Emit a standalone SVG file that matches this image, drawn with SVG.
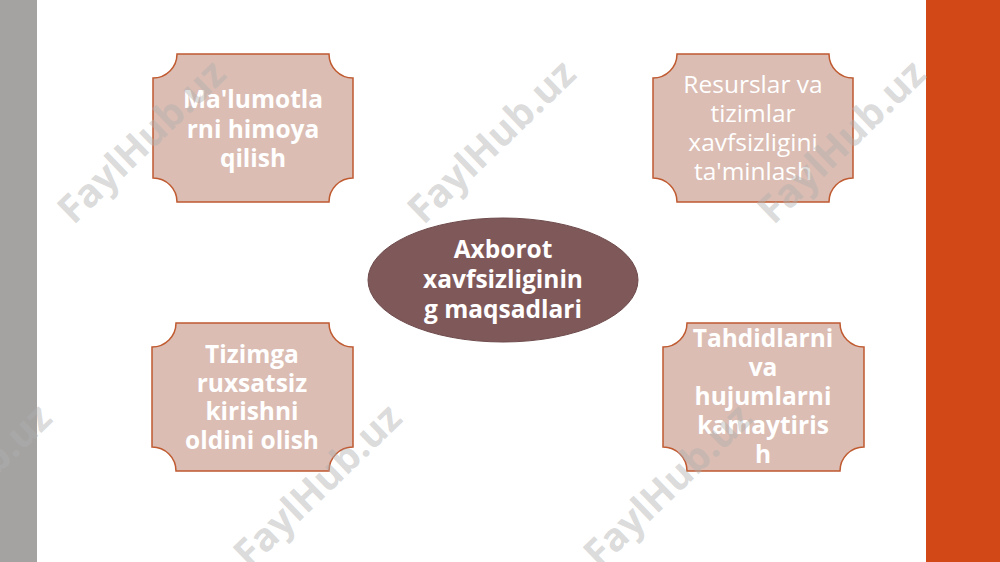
<svg xmlns="http://www.w3.org/2000/svg" width="1000" height="562" viewBox="0 0 1000 562">
<style>
.plaque{fill:#dbbdb3;stroke:#c05a30;stroke-width:1.5}
.t{font-family:"Open Sans","Noto Sans","Liberation Sans",sans-serif;font-size:24.5px;fill:#ffffff;text-anchor:middle}
.b{font-weight:bold}
.wm{font-family:"Open Sans","Noto Sans","Liberation Sans",sans-serif;font-size:39px;font-weight:bold;fill:#b0b0b0;fill-opacity:0.45;text-anchor:middle;dominant-baseline:central}
</style>
<rect x="0" y="0" width="1000" height="562" fill="#ffffff"/>
<rect x="0" y="0" width="37" height="562" fill="#a5a3a2"/>
<rect x="926" y="0" width="74" height="562" fill="#d34817"/>
<g id="connectors"/>
<g id="node-malumot">
<path class="plaque" d="M177,54 H329 A24,24 0 0 0 353,78 V178 A24,24 0 0 0 329,202 H177 A24,24 0 0 0 153,178 V78 A24,24 0 0 0 177,54 Z"/>
<text class="t b" x="253" y="108">Ma'lumotla</text>
<text class="t b" x="253" y="138">rni himoya</text>
<text class="t b" x="253" y="167">qilish</text>
</g>
<g id="node-resurs">
<path class="plaque" d="M677,54 H829 A24,24 0 0 0 853,78 V178 A24,24 0 0 0 829,202 H677 A24,24 0 0 0 653,178 V78 A24,24 0 0 0 677,54 Z"/>
<text class="t" x="753" y="93">Resurslar va</text>
<text class="t" x="753" y="122">tizimlar</text>
<text class="t" x="753" y="151">xavfsizligini</text>
<text class="t" x="753" y="180">ta'minlash</text>
</g>
<g id="node-center">
<ellipse cx="503" cy="280" rx="135" ry="62" fill="#7f5859" stroke="#6e4b4c" stroke-width="1"/>
<text class="t b" x="503" y="258">Axborot</text>
<text class="t b" x="503" y="288">xavfsizliginin</text>
<text class="t b" x="503" y="318">g maqsadlari</text>
</g>
<g id="node-tizim">
<path class="plaque" d="M176,323 H329 A24,24 0 0 0 353,347 V447 A24,24 0 0 0 329,471 H176 A24,24 0 0 0 152,447 V347 A24,24 0 0 0 176,323 Z"/>
<text class="t b" x="252" y="363">Tizimga</text>
<text class="t b" x="252" y="392">ruxsatsiz</text>
<text class="t b" x="252" y="420">kirishni</text>
<text class="t b" x="252" y="449">oldini olish</text>
</g>
<g id="node-tahdid">
<path class="plaque" d="M687,323 H840 A24,24 0 0 0 864,347 V447 A24,24 0 0 0 840,471 H687 A24,24 0 0 0 663,447 V347 A24,24 0 0 0 687,323 Z"/>
<text class="t b" x="763" y="347">Tahdidlarni</text>
<text class="t b" x="763" y="376">va</text>
<text class="t b" x="763" y="405">hujumlarni</text>
<text class="t b" x="763" y="434">kamaytiris</text>
<text class="t b" x="763" y="463">h</text>
</g>
<g id="watermarks">
<text class="wm" transform="translate(140,140) rotate(-44)">FaylHub.uz</text>
<text class="wm" transform="translate(490,140) rotate(-44)">FaylHub.uz</text>
<text class="wm" transform="translate(840,140) rotate(-44)">FaylHub.uz</text>
<text class="wm" transform="translate(-34,484) rotate(-44)">FaylHub.uz</text>
<text class="wm" transform="translate(316,484) rotate(-44)">FaylHub.uz</text>
<text class="wm" transform="translate(666,484) rotate(-44)">FaylHub.uz</text>
</g>
</svg>
